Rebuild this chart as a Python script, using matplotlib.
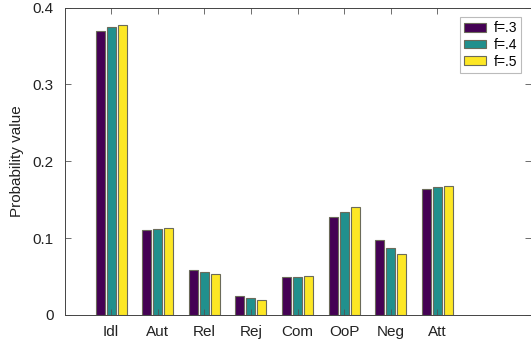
import matplotlib
matplotlib.use("Agg")
import matplotlib.pyplot as plt
import numpy as np

plt.rcParams['font.family'] = ['Liberation Sans', 'DejaVu Sans']

categories = ["Idl", "Aut", "Rel", "Rej", "Com", "OoP", "Neg", "Att"]
series_labels = ["f=.3", "f=.4", "f=.5"]
f3 = [0.370, 0.111, 0.058, 0.0247, 0.0493, 0.128, 0.097, 0.164]
f4 = [0.374, 0.112, 0.0558, 0.0225, 0.0500, 0.1346, 0.0874, 0.1665]
f5 = [0.377, 0.113, 0.0536, 0.0200, 0.0503, 0.140, 0.0792, 0.168]
colors = ["#440154", "#21908d", "#fde725"]

fig = plt.figure(figsize=(5.31, 3.42), dpi=100)
ax = fig.add_axes([64.5 / 531, 27 / 342, 466 / 531, 307.5 / 342])

x = np.arange(1, len(categories) + 1)
pitch = 0.237
width = 0.195
for i, (vals, col, lab) in enumerate(zip([f3, f4, f5], colors, series_labels)):
    ax.bar(x + (i - 1) * pitch, vals, width=width, color=col,
           edgecolor="#6b6b5a", linewidth=0.8, label=lab)

ax.set_xlim(0, 10)
ax.set_ylim(0, 0.4)
ax.set_xticks(x)
ax.set_xticklabels(categories)
ax.set_yticks([0, 0.1, 0.2, 0.3, 0.4])
ax.set_yticklabels(["0", "0.1", "0.2", "0.3", "0.4"])
ax.tick_params(direction="in", length=4, width=0.6, color="#555555",
               labelsize=11, labelcolor="#222222", top=True, right=True, pad=8)
ax.tick_params(axis="x", pad=7)
for s in ax.spines.values():
    s.set_color("#444444")
    s.set_linewidth(0.7)
ax.set_ylabel("Probability value", fontsize=11, color="#222222", labelpad=6)

leg = ax.legend(loc="upper right", bbox_to_anchor=(0.9796, 0.969), fontsize=10,
                frameon=True, fancybox=False, edgecolor="#aaaaaa",
                handlelength=1.6, handleheight=0.6, handletextpad=0.5,
                borderpad=0.3, labelspacing=0.2, borderaxespad=0)
leg.get_frame().set_linewidth(0.8)

fig.savefig("out.png", dpi=100)
